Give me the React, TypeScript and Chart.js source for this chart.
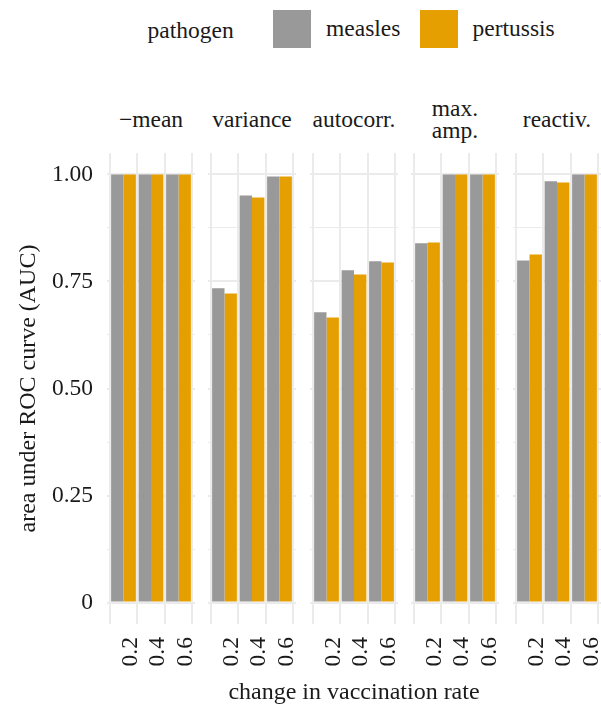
import React, { useEffect, useRef } from "react";
import { Chart, registerables } from "chart.js";

Chart.register(...registerables);

// ---------------- data ----------------
const facetLabels = ["−mean", "variance", "autocorr.", "max.\namp.", "reactiv."];
const rateLabels = ["0.2", "0.4", "0.6"];
const ratePositions = [1, 2, 3];
const seriesNames = ["measles", "pertussis"];
const measlesAUC = [
  [1, 1, 1],
  [0.734, 0.951, 0.995],
  [0.678, 0.776, 0.797],
  [0.839, 1, 1],
  [0.799, 0.984, 1],
];
const pertussisAUC = [
  [1, 1, 1],
  [0.722, 0.946, 0.995],
  [0.666, 0.766, 0.794],
  [0.841, 1, 1],
  [0.813, 0.981, 1],
];
const yMajorTicks = [0, 0.25, 0.5, 0.75, 1];
const yTickLabels = ["0", "0.25", "0.50", "0.75", "1.00"];
const yMinorTicks = [0.125, 0.375, 0.625, 0.875];
const legendTitle = "pathogen";
const xTitle = "change in vaccination rate";
const yTitle = "area under ROC curve (AUC)";

// ---------------- style ----------------
const FONT = '"Liberation Serif", "Times New Roman", serif';
const TEXT = "#1a1a1a";
const GRID = "#ebebeb";
const COLORS = ["#999999", "#E69F00"];
const PANEL_TOP = 153;
const PANEL_BOTTOM = 624;
const CANVAS_BOTTOM = 680;
const PANEL_LEFTS = [107, 208, 310, 411, 513];
const PANEL_W = 88;
const Y_AXIS_W = 107;
const FS = 23.5;

function Panel({ index }: { index: number }) {
  const ref = useRef<HTMLCanvasElement | null>(null);
  const isFirst = index === 0;
  const canvasLeft = isFirst ? 0 : PANEL_LEFTS[index];
  const width = isFirst ? PANEL_LEFTS[0] + PANEL_W : PANEL_W;
  const height = CANVAS_BOTTOM - PANEL_TOP;

  useEffect(() => {
    if (!ref.current) return;
    const series = [measlesAUC[index], pertussisAUC[index]];
    const allY = [...yMajorTicks, ...yMinorTicks].sort((a, b) => a - b);
    const chart = new Chart(ref.current, {
      type: "bar",
      data: {
        datasets: series.map((vals, s) => ({
          label: seriesNames[s],
          data: vals.map((v, i) => ({ x: ratePositions[i], y: v })),
          backgroundColor: COLORS[s],
          borderWidth: 0,
          categoryPercentage: 0.9,
          barPercentage: 1.0,
        })),
      },
      options: {
        responsive: false,
        animation: false,
        devicePixelRatio: 1,
        layout: { padding: 0 },
        plugins: {
          legend: { display: false },
          tooltip: { enabled: false },
          title: { display: false },
        },
        scales: {
          x: {
            type: "linear",
            min: 0.4,
            max: 3.6,
            offset: false,
            afterBuildTicks: (s: any) => {
              s.ticks = ratePositions.map((v) => ({ value: v }));
            },
            afterFit: (s: any) => {
              s.height = CANVAS_BOTTOM - PANEL_BOTTOM;
              s.paddingLeft = 0;
              s.paddingRight = 0;
            },
            ticks: {
              autoSkip: false,
              minRotation: 90,
              maxRotation: 90,
              padding: 13,
              labelOffset: 7,
              color: TEXT,
              font: { family: FONT, size: FS },
              callback: (_v: any, i: number) => rateLabels[i],
            },
            grid: { color: GRID, lineWidth: 2, drawTicks: false },
            border: { display: false },
          },
          y: {
            type: "linear",
            min: -0.05,
            max: 1.05,
            afterBuildTicks: (s: any) => {
              s.ticks = allY.map((v) => ({ value: v }));
            },
            afterFit: (s: any) => {
              s.width = isFirst ? Y_AXIS_W : 0;
              s.paddingTop = 0;
              s.paddingBottom = 0;
            },
            ticks: {
              display: isFirst,
              padding: 14,
              color: TEXT,
              font: { family: FONT, size: FS },
              callback: (v: any) => {
                const k = yMajorTicks.indexOf(Number(v));
                return k >= 0 ? yTickLabels[k] : "";
              },
            },
            grid: {
              color: GRID,
              drawTicks: false,
              lineWidth: (ctx: any) =>
                yMajorTicks.indexOf(ctx.tick ? ctx.tick.value : -1) >= 0 ? 2 : 1,
            },
            border: { display: false },
            title: {
              display: isFirst,
              text: yTitle,
              color: TEXT,
              font: { family: FONT, size: 24 },
              padding: { top: 14, bottom: 0 },
            },
          },
        },
      } as any,
    });
    return () => chart.destroy();
  }, [index]);

  return (
    <canvas
      ref={ref}
      width={width}
      height={height}
      style={{
        position: "absolute",
        left: canvasLeft,
        top: PANEL_TOP,
        width,
        height,
      }}
    />
  );
}

export default function App() {
  const textBase: React.CSSProperties = {
    position: "absolute",
    fontFamily: FONT,
    color: TEXT,
    whiteSpace: "nowrap",
  };
  return (
    <div
      style={{
        position: "fixed",
        left: 0,
        top: 0,
        width: 601,
        height: 704,
        background: "#ffffff",
        overflow: "hidden",
      }}
    >
      {/* legend */}
      <div style={{ ...textBase, left: 147.5, top: 19.3, fontSize: FS, lineHeight: `${FS}px` }}>
        {legendTitle}
      </div>
      <div style={{ position: "absolute", left: 273, top: 10, width: 38, height: 38, background: COLORS[0] }} />
      <div style={{ ...textBase, left: 326, top: 17, fontSize: FS, lineHeight: `${FS}px` }}>
        {seriesNames[0]}
      </div>
      <div style={{ position: "absolute", left: 420, top: 10, width: 38, height: 38, background: COLORS[1] }} />
      <div style={{ ...textBase, left: 472.5, top: 17, fontSize: FS, lineHeight: `${FS}px` }}>
        {seriesNames[1]}
      </div>

      {/* strip labels */}
      {facetLabels.map((lab, i) => {
        const lines = lab.split("\n");
        const center = PANEL_LEFTS[i] + PANEL_W / 2;
        return (
          <div
            key={i}
            style={{
              ...textBase,
              left: center - 60,
              width: 120,
              textAlign: "center",
              top: 108 - ((lines.length - 1) * 22.3) / 2,
              fontSize: FS,
              lineHeight: "22.3px",
              whiteSpace: "pre-line",
            }}
          >
            {lab}
          </div>
        );
      })}

      {facetLabels.map((_, i) => (
        <Panel key={i} index={i} />
      ))}

      {/* x axis title */}
      <div
        style={{
          ...textBase,
          left: 154,
          width: 400,
          textAlign: "center",
          top: 679,
          fontSize: 24,
          lineHeight: "24px",
        }}
      >
        {xTitle}
      </div>
    </div>
  );
}
